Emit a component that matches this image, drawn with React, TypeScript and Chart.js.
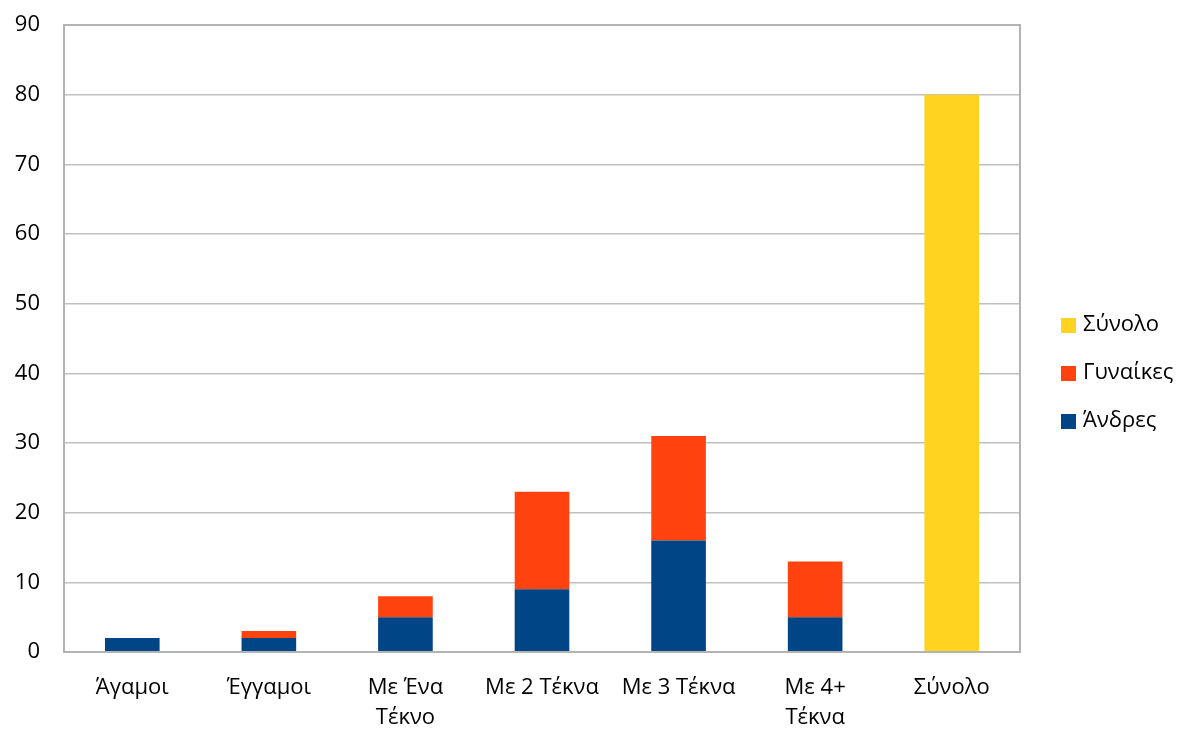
import React, { useEffect, useRef } from "react";
import { Chart, registerables } from "chart.js";

Chart.register(...registerables);

const categories: (string | string[])[] = [
  "Άγαμοι",
  "Έγγαμοι",
  ["Με Ένα", "Τέκνο"],
  "Με 2 Τέκνα",
  "Με 3 Τέκνα",
  ["Με 4+", "Τέκνα"],
  "Σύνολο",
];
const andres = [2, 2, 5, 9, 16, 5, 0];
const gynaikes = [0, 1, 3, 14, 15, 8, 0];
const synolo = [0, 0, 0, 0, 0, 0, 80];
const yTicks = [0, 10, 20, 30, 40, 50, 60, 70, 80, 90];

const FONT = "'Open Sans', 'DejaVu Sans', sans-serif";

const frameAndLegend = {
  id: "frameAndLegend",
  afterDraw(chart: any) {
    const { ctx, chartArea } = chart;
    ctx.save();
    ctx.strokeStyle = "#b3b3b3";
    ctx.lineWidth = 2;
    ctx.strokeRect(chartArea.left, chartArea.top, chartArea.right - chartArea.left, chartArea.bottom - chartArea.top);
    const items = chart.data.datasets.slice().reverse();
    const x = 1061;
    const y0 = 325;
    const gap = 48;
    ctx.font = `22px ${FONT}`;
    ctx.textBaseline = "middle";
    ctx.textAlign = "left";
    items.forEach((ds: any, i: number) => {
      const y = y0 + i * gap;
      ctx.fillStyle = ds.backgroundColor;
      ctx.fillRect(x, y - 7, 15, 15);
      ctx.fillStyle = "#000";
      ctx.fillText(ds.label, x + 22, y);
    });
    ctx.restore();
  },
};

export default function App() {
  const ref = useRef<HTMLCanvasElement | null>(null);
  useEffect(() => {
    if (!ref.current) return;
    const chart = new Chart(ref.current, {
      type: "bar",
      data: {
        labels: categories,
        datasets: [
          { label: "Άνδρες", data: andres, backgroundColor: "#004586", stack: "s" },
          { label: "Γυναίκες", data: gynaikes, backgroundColor: "#ff420e", stack: "s" },
          { label: "Σύνολο", data: synolo, backgroundColor: "#ffd320", stack: "s" },
        ],
      },
      options: {
        animation: false,
        responsive: false,
        maintainAspectRatio: false,
        layout: { padding: { top: 25, right: 160, left: 0, bottom: 0 } },
        datasets: { bar: { barPercentage: 0.4, categoryPercentage: 1 } },
        plugins: { legend: { display: false }, tooltip: { enabled: false } },
        scales: {
          x: {
            stacked: true,
            grid: { display: false, drawTicks: false },
            border: { display: false },
            ticks: { color: "#000", font: { size: 22, family: FONT, lineHeight: 1.4 }, padding: 20, maxRotation: 0, autoSkip: false },
            afterFit: (s: any) => { s.height = 79; s.paddingLeft = 0; s.paddingRight = 0; },
          },
          y: {
            stacked: true,
            min: 0,
            max: 90,
            afterBuildTicks: (s: any) => { s.ticks = yTicks.map((v) => ({ value: v })); },
            grid: { color: "#c0c0c0", lineWidth: 1.5, drawTicks: false },
            border: { display: false },
            ticks: { color: "#000", font: { size: 22, family: FONT }, padding: 24 },
            afterFit: (s: any) => { s.width = 64; s.paddingTop = 0; s.paddingBottom = 0; },
          },
        },
      },
      plugins: [frameAndLegend],
    });
    return () => chart.destroy();
  }, []);
  return (
    <div style={{ position: "absolute", left: 0, top: 0, width: 1180, height: 731, background: "#fff" }}>
      <canvas ref={ref} width={1180} height={731} style={{ display: "block" }} />
    </div>
  );
}
